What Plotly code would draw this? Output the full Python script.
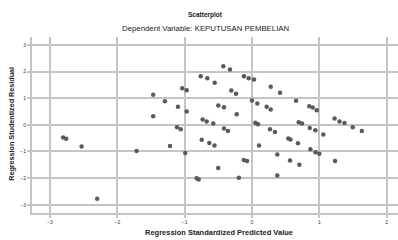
import plotly.graph_objects as go

# Regression Standardized Predicted Value
pred = [-1.467, -1.467, -1.293, -1.100, -1.036, -0.970, -0.970, -0.762, -0.664, -0.554,
        -0.426, -0.327, -0.308, -0.238, -0.501, -0.416, -0.227, -0.119, -0.049, 0.030,
        0.278, 0.416, 0.000, 0.079, 0.218, 0.278, 0.654, 0.851, 0.902, 0.961,
        -0.733, -0.673, -0.575, 0.049, 0.089, 0.694, 0.743, 1.226, 1.300, 1.374,
        -1.114, -1.059, -0.416, -0.357, 0.267, 0.342, 0.857, 0.941, 1.059, 1.496,
        1.631, -2.804, -2.759, -2.530, -2.299, -1.713, -1.218, -0.991, -0.822, -0.792,
        -0.747, -0.634, -0.557, -0.502, -0.195, -0.122, -0.074, 0.104, 0.376, 0.376,
        0.539, 0.571, 0.682, 0.565, 0.703, 0.868, 0.944, 1.000, 1.233]

# Regression Studentized Residual
resid = [1.128, 0.323, 0.887, 0.677, 1.376, 1.301, 0.500, 1.827, 1.752, 1.579,
         2.203, 2.079, 1.289, 1.165, 0.726, 0.662, 0.398, 1.827, 1.752, 1.703,
         1.429, 1.203, 0.914, 0.801, 0.677, 0.575, 0.902, 0.699, 0.650, 0.549,
         0.199, 0.124, 0.049, 0.075, 0.023, 0.098, 0.049, 0.237, 0.124, 0.068,
         -0.090, -0.165, -0.139, -0.226, -0.165, -0.271, -0.113, -0.203, -0.365, -0.090,
         -0.233, -0.477, -0.526, -0.816, -2.771, -0.977, -0.789, -1.053, -2.008, -2.056,
         -0.560, -0.684, -0.778, -1.624, -1.985, -1.323, -1.361, -0.778, -1.109, -1.906,
         -0.515, -0.553, -0.695, -1.335, -1.500, -0.914, -1.030, -1.086, -1.361]

x_ticks = [-3, -2, -1, 0, 1, 2]
y_ticks = [-3, -2, -1, 0, 1, 2, 3]

title_text = "Scatterplot"
subtitle_text = "Dependent Variable: KEPUTUSAN PEMBELIAN"
x_title = "Regression Standardized Predicted Value"
y_title = "Regression Studentized Residual"

grid = "#c4c4c4"
txt = "#333333"
fam = "Liberation Sans, Arial, sans-serif"

fig = go.Figure(go.Scatter(
    x=pred, y=resid, mode="markers",
    marker=dict(size=4.5, color="#5a5a5a", line=dict(width=0)),
    hoverinfo="skip",
))

fig.update_layout(
    width=398, height=240,
    margin=dict(l=32, r=0, t=37, b=27),
    paper_bgcolor="white", plot_bgcolor="white",
    showlegend=False,
    font=dict(family=fam, color=txt),
    xaxis=dict(range=[-3.267, 2.168], tickvals=x_ticks, showgrid=True, gridcolor=grid, gridwidth=2,
               zeroline=False, showline=True, linecolor=grid, linewidth=2,
               ticks="outside", ticklen=3, tickcolor=grid, tickwidth=2,
               tickfont=dict(size=5, color=txt)),
    yaxis=dict(range=[-3.31, 3.3], tickvals=y_ticks, showgrid=True, gridcolor=grid, gridwidth=2,
               zeroline=False, showline=True, linecolor=grid, linewidth=2,
               ticks="outside", ticklen=3, tickcolor=grid, tickwidth=2,
               tickfont=dict(size=5, color=txt)),
    annotations=[
        dict(text=title_text, xref="paper", yref="paper", x=0.473, y=1.126, showarrow=False,
             xanchor="center", yanchor="middle",
             font=dict(size=6.5, weight="bold", color="#222222", family=fam)),
        dict(text=subtitle_text, xref="paper", yref="paper", x=0.473, y=1.051, showarrow=False,
             xanchor="center", yanchor="middle",
             font=dict(size=7.8, color="#222222", family=fam)),
        dict(text=x_title, xref="paper", yref="paper", x=0.511, y=-0.112, showarrow=False,
             xanchor="center", yanchor="middle",
             font=dict(size=7.5, weight="bold", color="#222222", family=fam)),
        dict(text=y_title, xref="paper", yref="paper", x=-0.0546, y=0.507, showarrow=False,
             xanchor="center", yanchor="middle", textangle=-90,
             font=dict(size=7.2, weight="bold", color="#222222", family=fam)),
    ],
)

fig.write_html("out.html", config={"displayModeBar": False},
               post_script="document.body.style.margin='0';")
